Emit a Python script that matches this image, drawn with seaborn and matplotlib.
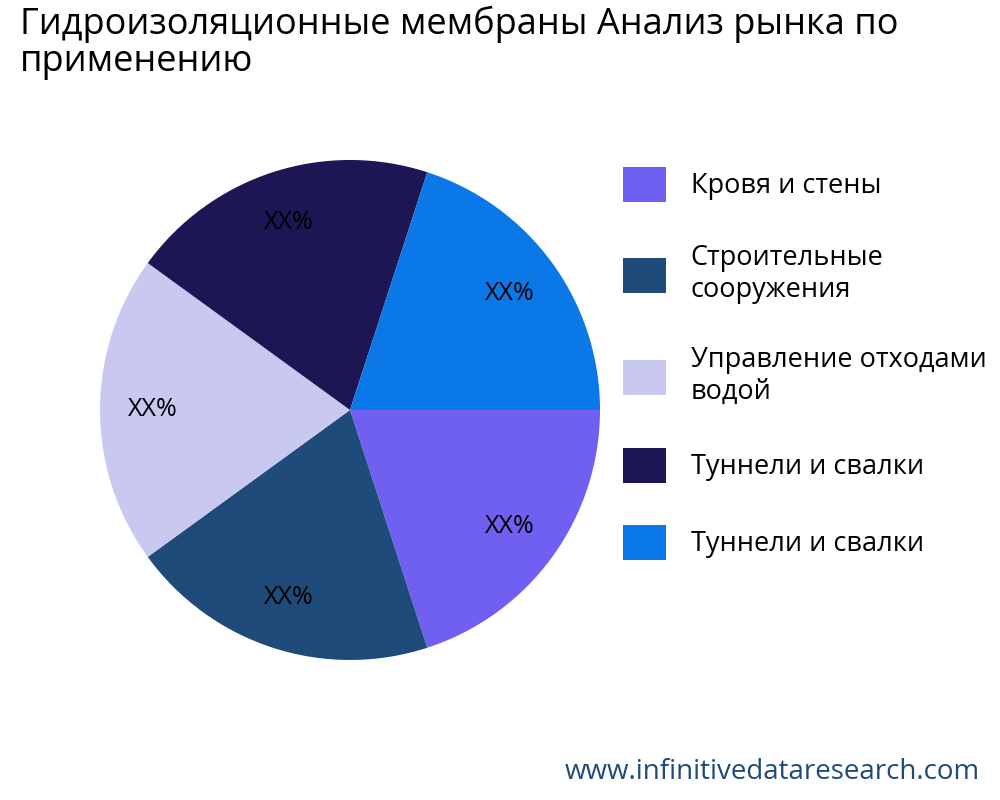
import matplotlib
matplotlib.use("Agg")
import matplotlib.pyplot as plt
import seaborn as sns
from matplotlib.patches import Patch

sns.set_theme(style="white")
plt.rcParams['font.family'] = ['Open Sans', 'DejaVu Sans']

categories = ["Кровя и стены", "Строительные\nсооружения", "Управление отходами\nводой",
              "Туннели и свалки", "Туннели и свалки"]
values = [20, 20, 20, 20, 20]
colors = ["#7060F2", "#1F4B7A", "#C8C8F0", "#1C1655", "#0A78E6"]

fig = plt.figure(figsize=(10, 8), dpi=100)
ax = fig.add_axes([0.0375, 0.0969, 0.625, 0.78125])
ax.pie(values, colors=colors, startangle=0, counterclock=False,
       autopct=lambda p: "XX%", pctdistance=0.79,
       wedgeprops={"linewidth": 0},
       textprops={"fontsize": 18, "color": "black"})
ax.set_aspect("equal")

fig.text(0.02, 0.9, "Гидроизоляционные мембраны Анализ рынка по\nприменению",
         fontsize=26, va="bottom", ha="left", linespacing=1.05, color="black")

handles = [Patch(facecolor=c, edgecolor="none") for c in colors]
fig.legend(handles, categories, loc="upper left", bbox_to_anchor=(0.612, 0.805),
           frameon=False, fontsize=19.5, handlelength=1.6, handleheight=1.6,
           labelspacing=1.55, handletextpad=0.9, borderaxespad=0,
           labelcolor="black")

fig.text(0.98, 0.018, "www.infinitivedataresearch.com", ha="right", va="bottom",
         fontsize=20, color="#1F4B7A")
fig.savefig("out.png")
